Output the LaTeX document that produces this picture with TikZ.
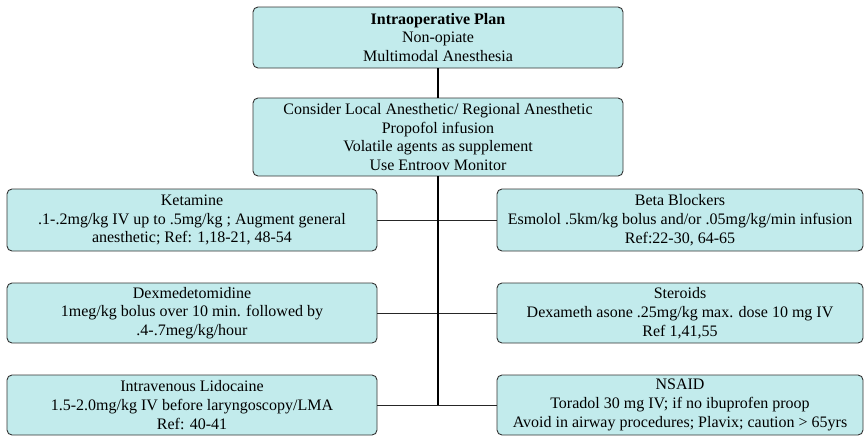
\documentclass[tikz,border=0pt]{standalone}
\usepackage{fontspec}
\setmainfont{Liberation Serif}
\begin{document}
\begin{tikzpicture}[x=1pt,y=-1pt,
  box/.style={draw=black!80, line width=0.9pt, rounded corners=5pt,
    fill={rgb,255:red,194;green,235;blue,236}, inner sep=0pt, align=center,
    font=\fontsize{16}{18.8}\selectfont},
  trunk/.style={draw=black, line width=2pt},
  branch/.style={draw=black!85, line width=1pt}]
\useasboundingbox (0,0) rectangle (864,437);

% top of the plan
\node[box, minimum width=370pt, minimum height=61pt] (plan) at (438,37.5)
  {\textbf{Intraoperative Plan}\\Non-opiate\\Multimodal Anesthesia};
\node[box, minimum width=370pt, minimum height=78pt] (consider) at (438,137)
  {Consider Local Anesthetic/ Regional Anesthetic\\Propofol infusion\\Volatile agents as supplement\\Use Entroov Monitor};

% left column
\node[box, minimum width=370pt, minimum height=62pt] (ket) at (192,220)
  {Ketamine\\.1-.2mg/kg IV up to .5mg/kg ; Augment general\\anesthetic; Ref: 1,18-21, 48-54};
\node[box, minimum width=370pt, minimum height=60pt] (dex) at (192,313)
  {Dexmedetomidine\\1meg/kg bolus over 10 min. followed by\\.4-.7meg/kg/hour};
\node[box, minimum width=370pt, minimum height=60pt] (lido) at (192,405)
  {Intravenous Lidocaine\\1.5-2.0mg/kg IV before laryngoscopy/LMA\\Ref: 40-41};

% right column
\node[box, minimum width=366pt, minimum height=62pt] (beta) at (680,220)
  {Beta Blockers\\Esmolol .5km/kg bolus and/or .05mg/kg/min infusion\\Ref:22-30, 64-65};
\node[box, minimum width=366pt, minimum height=60pt] (ster) at (680,313)
  {Steroids\\Dexameth asone .25mg/kg max. dose 10 mg IV\\Ref 1,41,55};
\node[box, minimum width=366pt, minimum height=60pt] (nsaid) at (680,405)
  {NSAID\\Toradol 30 mg IV; if no ibuprofen proop\\Avoid in airway procedures; Plavix; caution > 65yrs};

% connectors
\coordinate (end) at (consider.south |- lido.east);
\draw[branch] (ket.east) -- (beta.west);
\draw[branch] (dex.east) -- (ster.west);
\draw[branch] (lido.east) -- (nsaid.west);
\draw[trunk] (plan.south) -- (consider.north);
\draw[trunk] (consider.south) -- (end);
\end{tikzpicture}
\end{document}
